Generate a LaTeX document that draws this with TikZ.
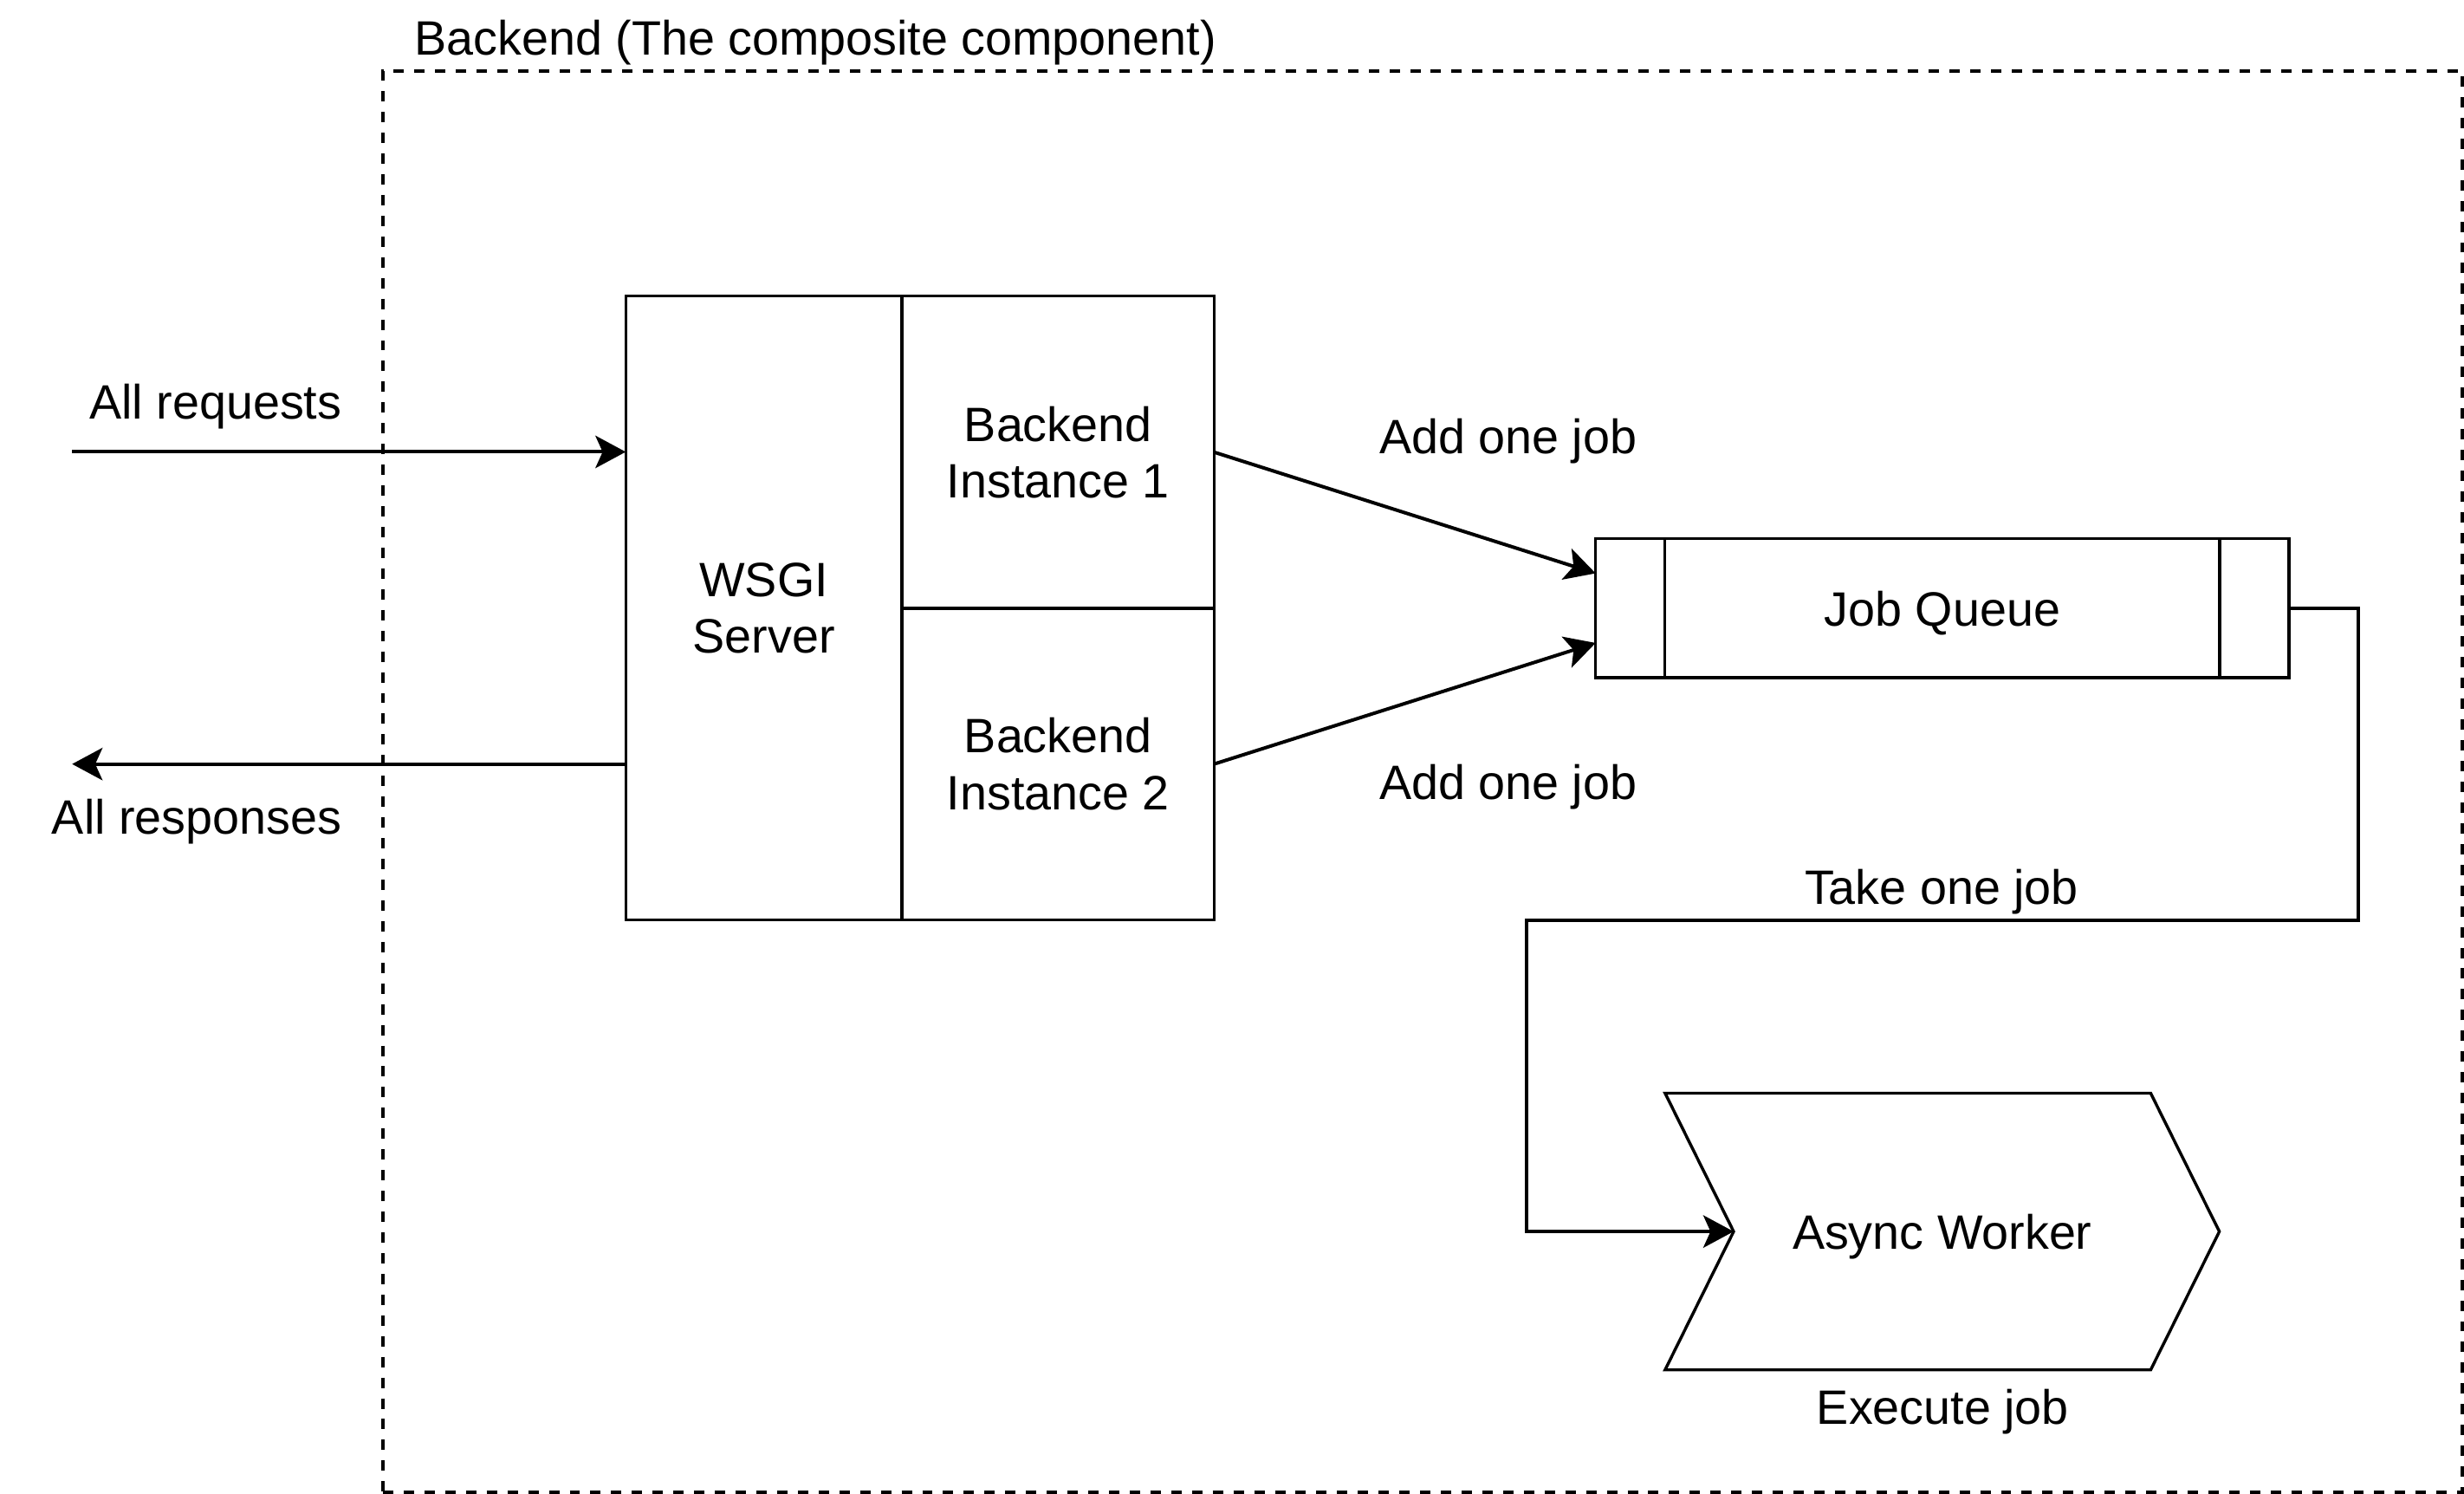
\documentclass[tikz,border=0pt]{standalone}
\usepackage{fontspec}
\setmainfont{Liberation Sans}
\usetikzlibrary{arrows.meta,calc}
\begin{document}
\begin{tikzpicture}[x=1pt,y=-1pt,
  font=\fontsize{30.7}{36}\selectfont,
  cellbox/.style={draw, line width=1.9pt, rectangle, inner sep=0pt, outer sep=0pt, align=center},
  shapebox/.style={draw, line width=1.9pt, rectangle, inner sep=0pt, outer sep=0pt, text height=23pt, text depth=0pt},
  conn/.style={line width=2.2pt, -{Stealth[length=19.3pt,width=20.6pt,inset=4.6pt]}},
  edgeline/.style={line width=1.9pt},
  lbl/.style={inner sep=0pt, outer sep=0pt, anchor=base},
  container/.style={draw, dash pattern=on 6.6pt off 6.6pt, line width=2.2pt, rectangle, inner sep=0pt, outer sep=0pt}]
\useasboundingbox (0,0) rectangle (1568,950.5);

% container
\node[container, minimum width=1323.3pt, minimum height=904.4pt] (backend) at (905.35,497.2) {};
\node[lbl, anchor=base west] (backendlbl) at (263.8,34.8) {Backend (The composite component)};

% WSGI server and instances
\node[cellbox, minimum width=175.7pt, minimum height=396.7pt] (wsgi) at (486.05,386.75) {WSGI\\Server};
\node[cellbox, minimum width=198.8pt, minimum height=198.6pt] (inst1) at (673.3,287.7) {Backend\\Instance 1};
\node[cellbox, minimum width=198.8pt, minimum height=198.1pt] (inst2) at (673.3,486.05) {Backend\\Instance 2};

% job queue
\node[shapebox, minimum width=441.3pt, minimum height=88.6pt] (queue) at (1236.05,386.9) {Job Queue};
\draw[edgeline] ($(queue.north west)+(44.1,0)$) -- ($(queue.south west)+(44.1,0)$);
\draw[edgeline] ($(queue.north east)+(-44.2,0)$) -- ($(queue.south east)+(-44.2,0)$);

% async worker (step shape)
\node[shapebox, draw=none, minimum width=352.7pt, minimum height=176pt] (aw) at (1235.95,783.5) {Async Worker};
\draw[edgeline, line join=miter] (aw.north west) -- ($(aw.north east)+(-43.7,0)$) -- (aw.east)
  -- ($(aw.south east)+(-43.7,0)$) -- (aw.south west) -- ($(aw.west)+(43.6,0)$) -- cycle;
\coordinate (awin) at ($(aw.west)+(43.6,0)$);

% connectors
\coordinate (reqin) at (45.9,287.5);
\coordinate (respout) at (45.9,486.1);
\draw[conn] (reqin) -- (reqin -| wsgi.west);
\draw[conn] (respout -| wsgi.west) -- (respout);
\draw[conn] (inst1.east) -- ($(queue.west)+(0,-22.15)$);
\draw[conn] (inst2.east) -- ($(queue.west)+(0,22.15)$);
\draw[conn] (queue.east) -- ++(44,0) -- ++(0,198.5) -- ++(-529.4,0) |- (awin);

% labels
\node[lbl, anchor=base east] (reqlbl) at (217.4,266.7) {All requests};
\node[lbl, anchor=base east] (resplbl) at (217.3,530.5) {All responses};
\node[lbl] (add1) at (959.7,288.7) {Add one job};
\node[lbl] (add2) at (959.7,508.5) {Add one job};
\node[lbl] (take) at (1235.5,575.3) {Take one job};
\node[lbl] (exec) at (1236.3,906.1) {Execute job};
\end{tikzpicture}
\end{document}
